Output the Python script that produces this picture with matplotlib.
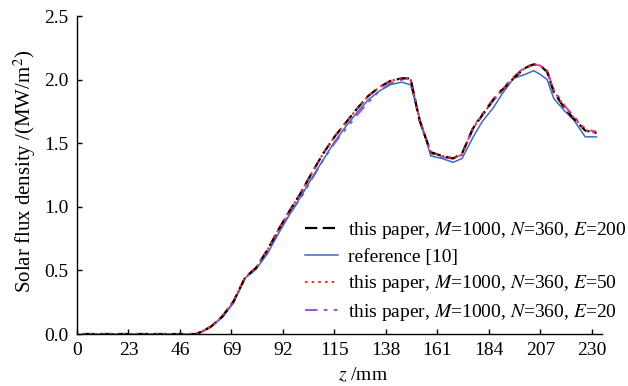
import matplotlib
matplotlib.use("Agg")
import matplotlib.pyplot as plt

plt.rcParams['font.family'] = ['Liberation Serif', 'DejaVu Serif']
plt.rcParams['mathtext.fontset'] = 'stix'

z = [2.5, 10, 20, 30, 40, 50, 53, 56, 60, 65, 70, 75, 78, 80, 85, 90, 95, 100,
     105, 110, 115, 120, 125, 130, 135, 140, 145, 149, 153, 158, 163, 168, 172,
     177, 181, 186, 190, 195, 200, 204, 207, 210, 213, 218, 222, 227, 232]

flux_E200 = [0, 0, 0, 0, 0, 0, 0, 0.02, 0.06, 0.14, 0.26, 0.44, 0.49, 0.52, 0.66, 0.82, 0.97, 1.11,
             1.27, 1.42, 1.55, 1.66, 1.77, 1.87, 1.94, 1.99, 2.01, 2.01, 1.68, 1.43, 1.40, 1.38, 1.42,
             1.62, 1.72, 1.84, 1.92, 2.01, 2.09, 2.12, 2.11, 2.06, 1.90, 1.77, 1.69, 1.60, 1.58]

flux_ref10 = [0, 0, 0, 0, 0, 0, 0, 0.02, 0.06, 0.13, 0.25, 0.44, 0.48, 0.51, 0.63, 0.79, 0.94, 1.08,
              1.23, 1.37, 1.51, 1.63, 1.74, 1.84, 1.91, 1.96, 1.98, 1.96, 1.70, 1.40, 1.38, 1.35, 1.38,
              1.55, 1.67, 1.78, 1.89, 2.01, 2.04, 2.07, 2.04, 2.00, 1.85, 1.75, 1.68, 1.55, 1.55]

flux_E50 = [0, 0, 0, 0, 0, 0, 0, 0.02, 0.06, 0.14, 0.26, 0.44, 0.49, 0.52, 0.66, 0.82, 0.97, 1.11,
            1.27, 1.42, 1.55, 1.66, 1.77, 1.87, 1.94, 1.99, 2.01, 2.01, 1.68, 1.43, 1.40, 1.38, 1.41,
            1.62, 1.72, 1.84, 1.92, 2.01, 2.09, 2.12, 2.11, 2.06, 1.91, 1.78, 1.70, 1.60, 1.58]

flux_E20 = [0, 0, 0, 0, 0, 0, 0, 0.02, 0.06, 0.14, 0.25, 0.44, 0.49, 0.52, 0.65, 0.81, 0.95, 1.07,
            1.22, 1.37, 1.50, 1.61, 1.72, 1.82, 1.91, 1.97, 2.00, 2.00, 1.68, 1.42, 1.39, 1.38, 1.41,
            1.63, 1.73, 1.85, 1.93, 2.02, 2.10, 2.12, 2.11, 2.07, 1.92, 1.79, 1.71, 1.61, 1.59]

xticks = [0, 23, 46, 69, 92, 115, 138, 161, 184, 207, 230]
yticks = [0.0, 0.5, 1.0, 1.5, 2.0, 2.5]

labels = [r"this paper, $M$=1000, $N$=360, $E$=200",
          "reference [10]",
          r"this paper, $M$=1000, $N$=360, $E$=50",
          r"this paper, $M$=1000, $N$=360, $E$=20"]

FS = 14

fig = plt.figure(figsize=(6.28, 3.86), dpi=100)
ax = fig.add_axes([0.1226, 0.1347, 0.836, 0.8238])

ax.plot(z, flux_E200, color='black', lw=1.6, linestyle=(0, (5.5, 2.5)), label=labels[0], zorder=4)
ax.plot(z, flux_ref10, color='#3a6cc4', lw=1.1, linestyle='-', label=labels[1], zorder=3)
ax.plot(z, flux_E50, color='#ff2a2a', lw=1.5, linestyle=(0, (1.2, 2.0)), label=labels[2], zorder=5)
ax.plot(z, flux_E20, color='#a259c4', lw=1.5, linestyle=(0, (6, 3, 1.8, 3, 1.8, 3)), label=labels[3], zorder=2)

ax.set_xlim(0, 234.5)
ax.set_ylim(0, 2.5)
ax.set_xticks(xticks)
ax.set_yticks(yticks)
ax.set_yticklabels([f"{v:.1f}" for v in yticks])
ax.spines['top'].set_visible(False)
ax.spines['right'].set_visible(False)
for s in ['left', 'bottom']:
    ax.spines[s].set_linewidth(1.0)
ax.tick_params(direction='in', length=3.5, width=1.0, labelsize=FS)
ax.tick_params(axis='x', pad=6)
ax.tick_params(axis='y', pad=6)

ax.set_xlabel(r"$z$ /mm", fontsize=FS)
ax.xaxis.set_label_coords(0.545, -0.1)
ax.set_ylabel(r"Solar flux density /(MW/m$^2$)", fontsize=15)
ax.yaxis.set_label_coords(-0.075, 0.51)

leg = fig.legend(loc='upper left', bbox_to_anchor=(305 / 628, 1 - 220 / 386),
                 frameon=False, fontsize=FS, handlelength=1.7, handletextpad=0.5,
                 labelspacing=0.38, borderpad=0, borderaxespad=0)

fig.savefig("out.png", dpi=100)
